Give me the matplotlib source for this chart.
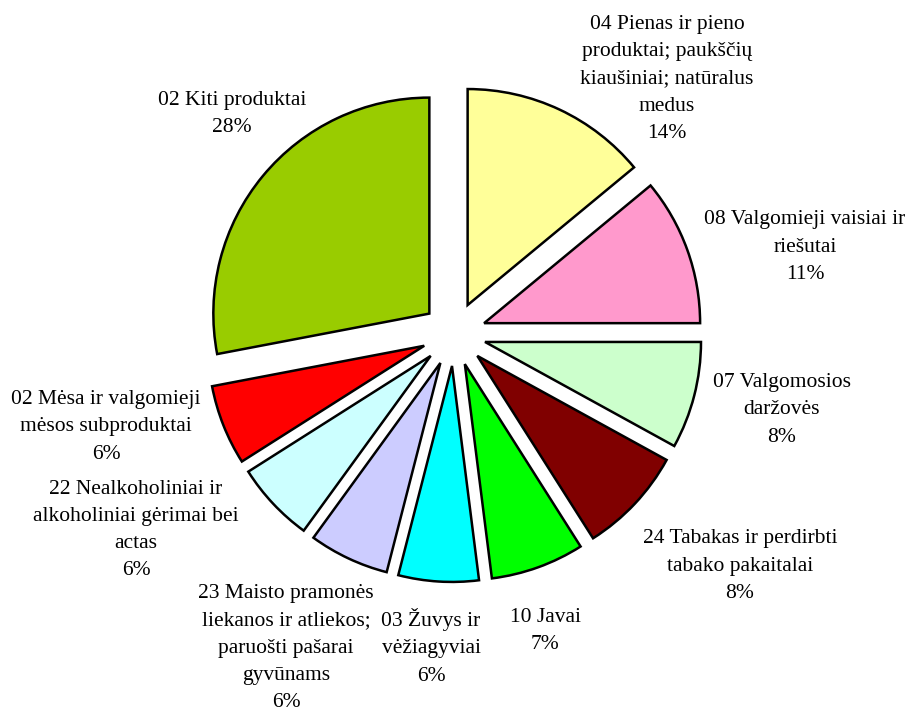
import matplotlib.pyplot as plt
import numpy as np

plt.rcParams['font.family'] = ['Liberation Serif', 'DejaVu Serif']

labels = [
    "04 Pienas ir pieno\nproduktai; paukščių\nkiaušiniai; natūralus\nmedus",
    "08 Valgomieji vaisiai ir\nriešutai",
    "07 Valgomosios\ndaržovės",
    "24 Tabakas ir perdirbti\ntabako pakaitalai",
    "10 Javai",
    "03 Žuvys ir\nvėžiagyviai",
    "23 Maisto pramonės\nliekanos ir atliekos;\nparuošti pašarai\ngyvūnams",
    "22 Nealkoholiniai ir\nalkoholiniai gėrimai bei\nactas",
    "02 Mėsa ir valgomieji\nmėsos subproduktai",
    "02 Kiti produktai",
]
shares = [14, 11, 8, 8, 7, 6, 6, 6, 6, 28]
colors = ["#FFFF99", "#FF99CC", "#CCFFCC", "#800000", "#00FF00",
          "#00FFFF", "#CCCCFF", "#CCFFFF", "#FF0000", "#99CC00"]
# label block centres in pixel coordinates (x, y from top)
label_pos = [(667, 79), (805, 247), (782, 410), (740, 566), (545, 631),
             (431, 647), (286, 648), (136, 530), (106, 427), (232, 114)]

W, H = 908, 713
fig = plt.figure(figsize=(W / 100, H / 100), dpi=100)
ax = fig.add_axes([0, 0, 1, 1])

cx, cy, R = 454, 334, 216
# explode is in data units here (pixels)
ax.pie(shares, colors=colors, startangle=90, counterclock=False,
       explode=[32] * len(shares), radius=R, center=(cx, -cy),
       wedgeprops=dict(edgecolor="black", linewidth=1.8))

for lab, val, (x, y) in zip(labels, shares, label_pos):
    ax.text(x, -y, f"{lab}\n{val}%", ha="center", va="center",
            fontsize=15.5, linespacing=1.58)

ax.set_xlim(0, W)
ax.set_ylim(-H, 0)
ax.set_aspect("equal")
ax.axis("off")

plt.savefig("out.png", dpi=100)
